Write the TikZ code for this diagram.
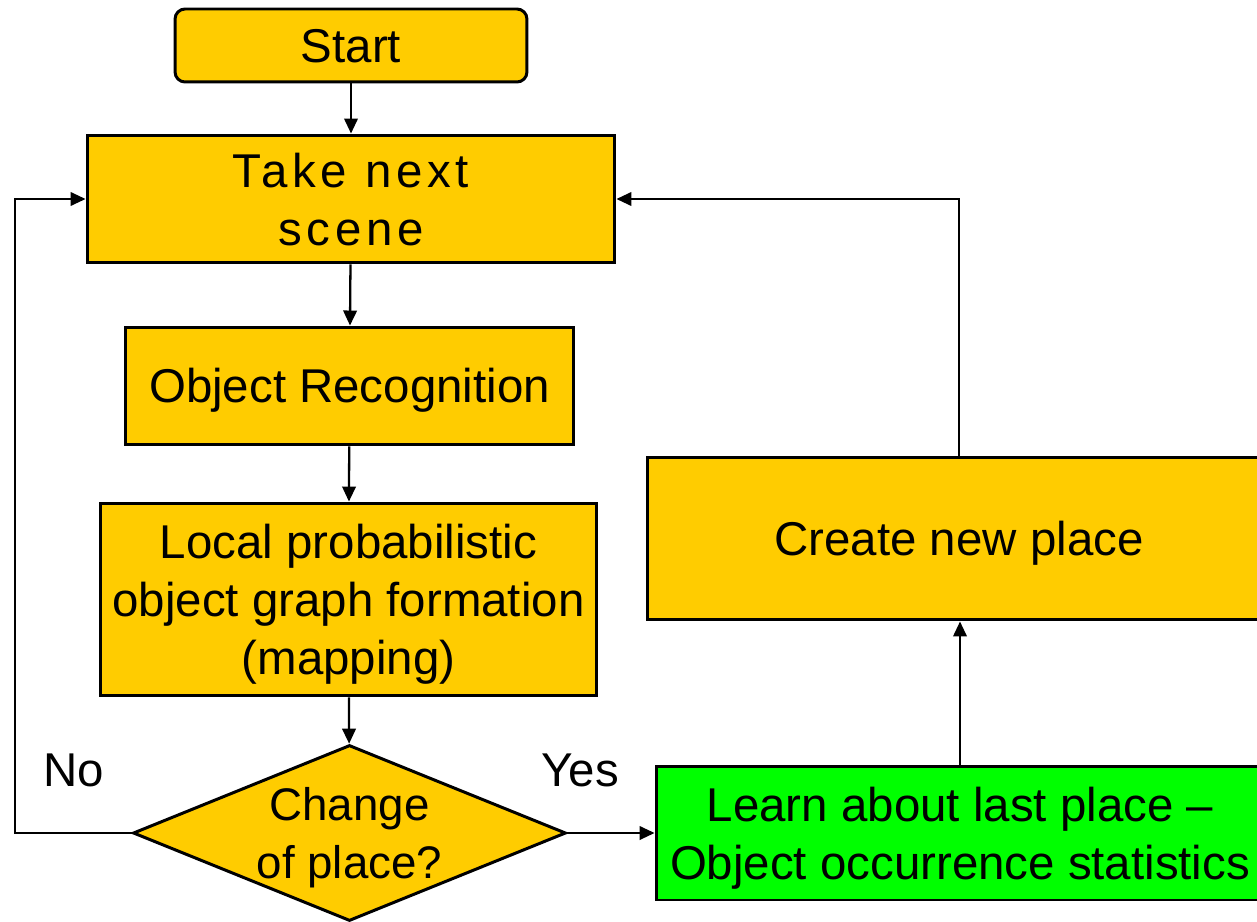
\documentclass[tikz,border=0pt]{standalone}
\usepackage{fontspec}
\setmainfont{Liberation Sans}
\usetikzlibrary{shapes.geometric,arrows.meta}
\definecolor{boxyellow}{HTML}{FFCC00}
\definecolor{boxgreen}{HTML}{00FF00}
\tikzset{
  box/.style={draw=black, line width=1.7pt, fill=boxyellow, inner sep=0pt, align=center,
    font=\fontsize{27}{33}\selectfont, text depth=0pt},
  oneline/.style={text height=19.3pt},
  greenbox/.style={box, fill=boxgreen},
  arr/.style={line width=1.3pt, -{Triangle[length=0.3cm,width=0.27cm]}},
  lbl/.style={font=\fontsize{27}{33}\selectfont, inner sep=0pt}
}
\begin{document}
\begin{tikzpicture}[x=0.02cm,y=-0.02cm]
\useasboundingbox (0,0) rectangle (1257,922);
\clip (0,0) rectangle (1257,922);
\node[box, oneline, rounded corners=0.2cm, minimum width=7.04cm, minimum height=1.46cm] (start) at (351,45.5) {Start};
\node[box, minimum width=10.56cm, minimum height=2.56cm] (take) at (351,199) {\addfontfeature{LetterSpace=10}Take next\\\addfontfeature{LetterSpace=10}scene};
\node[box, oneline, minimum width=8.98cm, minimum height=2.36cm] (objrec) at (349.5,386) {Object Recognition};
\node[box, minimum width=9.94cm, minimum height=3.86cm] (local) at (348.5,599.5) {Local probabilistic\\object graph formation\\(mapping)};
\node[box, diamond, minimum width=8.66cm, minimum height=3.52cm, aspect=2.46,
  label={[lbl, align=center, text depth=0pt, font=\fontsize{26}{33}\selectfont]center:Change\\of place?}] (dia) at (349.5,833) {};
\node[box, oneline, minimum width=12.48cm, minimum height=3.26cm] (create) at (959,538.5) {Create new place};
\node[greenbox, minimum width=12.16cm, minimum height=2.68cm] (learn) at (960,833) {Learn about last place --\\Object occurrence statistics};
\node[lbl] (no) at (74,770) {No};
\node[lbl] (yes) at (580,770) {Yes};
\coordinate (nocorner) at (15,833);
\draw[arr] (start) -- (take);
\draw[arr] (take) -- (objrec);
\draw[arr] (objrec) -- (local);
\draw[arr] (local) -- (dia);
\draw[arr] (dia.west) -- (nocorner) |- (take.west);
\draw[arr] (dia.east) -- (learn.west);
\draw[arr] (learn.north) -- (learn.north |- create.south);
\draw[arr] (create.north) |- (take.east);
\end{tikzpicture}
\end{document}
